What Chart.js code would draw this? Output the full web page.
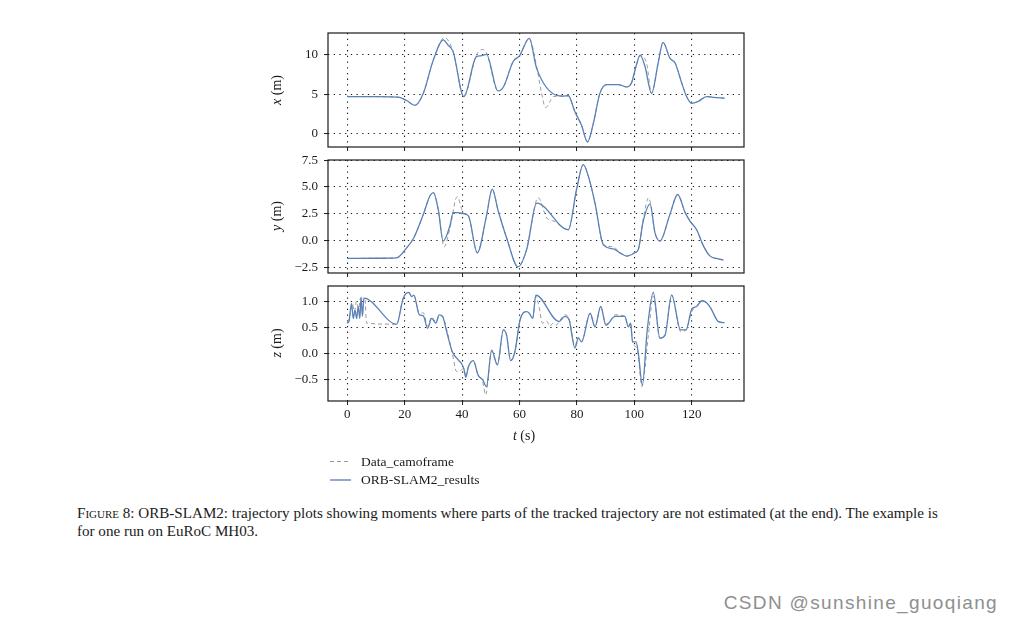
<!DOCTYPE html>
<html>
<head>
<meta charset="utf-8">
<script src="https://cdn.jsdelivr.net/npm/chart.js@4.4.1/dist/chart.umd.min.js"></script>
<style>
  html, body { margin: 0; padding: 0; background: #fff; }
  body { width: 1014px; height: 624px; position: relative; overflow: hidden;
         font-family: 'Liberation Serif', serif; color: #1a1a1a; }
  .panel { position: absolute; left: 262px; }
  .ytitle { position: absolute; font-size: 14px; white-space: nowrap; line-height: 16px;
            transform: translate(-50%, -50%) rotate(-90deg); }
  .ttitle { position: absolute; font-size: 14px; white-space: nowrap; line-height: 16px;
            transform: translate(-50%, -50%); }
  .leg { position: absolute; left: 361px; font-size: 13.5px; line-height: 16px; white-space: nowrap; }
  .sw { position: absolute; left: 330px; width: 21px; }
  .cap { position: absolute; left: 77px; font-size: 15.1px; line-height: 18px; white-space: nowrap; }
  .sc { font-variant: small-caps; }
  .mark { position: absolute; right: 16px; top: 592px; font-family: 'Liberation Sans', sans-serif;
          font-size: 19px; line-height: 22px; letter-spacing: 1.35px; color: #8f8f8f; }
</style>
</head>
<body>
<div class="panel" style="top:25px"><canvas id="chart-x" width="486" height="128"></canvas></div>
<div class="panel" style="top:152px"><canvas id="chart-y" width="486" height="127"></canvas></div>
<div class="panel" style="top:278px"><canvas id="chart-z" width="486" height="149"></canvas></div>

<div class="ytitle" style="left:277px;top:90px"><i>x</i> (m)</div>
<div class="ytitle" style="left:277px;top:216px"><i>y</i> (m)</div>
<div class="ytitle" style="left:277px;top:343px"><i>z</i> (m)</div>
<div class="ttitle" style="left:524px;top:436px"><i>t</i> (s)</div>

<div class="sw" style="top:461px;height:1px;background:repeating-linear-gradient(90deg,#999 0 4px,transparent 4px 7px)"></div>
<div class="leg" style="top:454px">Data_camoframe</div>
<div class="sw" style="top:479px;height:2px;background:#8fa9cf"></div>
<div class="leg" style="top:472px">ORB-SLAM2_results</div>

<div class="cap" style="top:504px"><span class="sc">Figure</span> 8: ORB-SLAM2: trajectory plots showing moments where parts of the tracked trajectory are not estimated (at the end). The example is</div>
<div class="cap" style="top:522px">for one run on EuRoC MH03.</div>

<div class="mark">CSDN @sunshine_guoqiang</div>

<script>
// Time axis (seconds) shared by the three panels
const tTicks = [0, 20, 40, 60, 80, 100, 120];
const xTicks = [0, 5, 10];
const yTicks = [-2.5, 0, 2.5, 5, 7.5];
const zTicks = [-0.5, 0, 0.5, 1];

// [t, value] pairs
const xCamo = [[0,4.69],[10,4.68],[17.8,4.62],[20.7,4.2],[23.6,3.6],[26.5,5.1],[30,9.3],[33.9,12.1],[36.9,10.3],
  [40.6,4.7],[45,9.9],[47,10.6],[48.5,10.2],[52.5,5.4],[54.4,5.9],[57.8,9.1],[60,9.8],[63.4,12.0],[66,8.4],
  [67.5,5.5],[69.1,3.3],[70.5,4.0],[71.8,4.7],[75,4.75],[77,4.8],[79.3,2.8],[81.6,1.1],[83.7,-1.0],[85.7,1.3],
  [88,5.1],[90.4,6.2],[94.4,6.2],[97.3,5.9],[99,6.4],[100.6,8.5],[102,9.8],[104.2,9.0],[106,5.1],[108.4,9.1],
  [110,11.5],[112.4,9.5],[114.2,8.9],[116.5,6.4],[118.2,4.7],[120,3.85],[122.3,4.1],[125.2,4.7],[127.5,4.6],[131.4,4.5]];
const xOrb = [[0,4.69],[10,4.68],[17.8,4.62],[20.7,4.2],[23.6,3.6],[26.5,5.1],[30,9.3],[33.5,11.8],[35,11.2],
  [36.9,10.3],[40.6,4.7],[45,9.7],[46.5,9.8],[48.5,10.0],[52.5,5.4],[54.4,5.9],[57.8,9.1],[60,9.8],[63.4,12.0],
  [66,8.2],[73.3,4.8],[75,4.75],[77,4.8],[79.3,2.8],[81.6,1.1],[83.7,-1.0],[85.7,1.3],[88,5.1],[90.4,6.2],
  [94.4,6.2],[97.3,5.9],[99,6.4],[100.6,8.5],[102,9.9],[103.7,8.5],[106,5.1],[108.4,9.1],[110,11.5],[112.4,9.5],
  [114.2,8.9],[116.5,6.4],[118.2,4.7],[120,3.85],[122.3,4.1],[125.2,4.7],[127.5,4.6],[131.4,4.5]];

const yCamo = [[0,-1.69],[10,-1.67],[17.2,-1.63],[20.7,-0.69],[23.2,0.25],[26.5,2.44],[28.8,4.2],[30,4.5],
  [31.7,2.9],[33.8,-0.6],[35.8,1.2],[38.3,4.1],[40.4,2.6],[42.2,2.3],[45.3,-1.16],[48.5,2.3],[50.5,4.8],[52.6,2.75],
  [55.5,0.25],[59.5,-2.47],[62.5,-0.84],[66.5,4.0],[69.5,2.1],[72,1.8],[77,1.0],[79.9,4.8],[82.2,7.1],[84,6.0],
  [86.3,3.5],[89.2,-0.4],[92.7,-0.6],[95,-1.16],[97.3,-1.47],[100.2,-1.1],[101.4,-0.84],[103.1,2.0],[105,4.0],
  [107.2,0.7],[108.9,-0.06],[112.4,2.44],[115.1,4.3],[117.7,2.6],[119.4,1.8],[121.7,1.0],[124.1,-0.53],
  [126.4,-1.47],[129.3,-1.72],[131,-1.84]];
const yOrb = [[0,-1.69],[10,-1.67],[17.2,-1.63],[20.7,-0.69],[23.2,0.25],[26.5,2.44],[28.8,4.16],[30,4.47],
  [31.7,2.9],[33.4,-0.06],[35.8,1.4],[36.9,2.6],[38.5,2.6],[40.4,2.5],[42.2,2.3],[45.3,-1.16],[48.5,2.3],[50.5,4.8],
  [52.6,2.75],[55.5,0.25],[59.5,-2.47],[62.5,-0.84],[66,3.5],[77,1.0],[79.9,4.8],[82.2,7.1],[84,6.0],[86.3,3.5],
  [89.2,-0.4],[92.7,-0.8],[95,-1.16],[97.3,-1.47],[100.2,-1.16],[101.4,-0.84],[103.1,1.8],[105.5,3.4],[107.2,0.7],
  [108.9,-0.06],[112.4,2.44],[115.1,4.3],[117.7,2.6],[119.4,1.8],[121.7,1.0],[124.1,-0.53],[126.4,-1.47],
  [129.3,-1.72],[131,-1.84]];

const zCamo = [[0,0.58],[1,0.75],[1.8,0.95],[2.5,0.8],[3.2,1.0],[4,0.85],[4.6,1.06],[6.2,1.03],[6.7,0.58],
  [17.2,0.56],[19.5,1.06],[21.5,1.17],[22.4,1.09],[23.2,1.12],[25.1,0.76],[26.5,0.78],[28,0.52],[29.4,0.7],
  [30.9,0.6],[32,0.72],[33.2,0.71],[34.8,0.42],[36.6,0.0],[38.1,-0.35],[39.5,-0.33],[40.6,-0.29],[41.3,-0.46],
  [42.2,-0.26],[43.9,-0.14],[45.6,-0.42],[47.2,-0.55],[48.2,-0.8],[50.3,0.04],[52.3,-0.22],[54.4,0.45],[55.5,0.35],
  [56.9,-0.14],[58.4,0.03],[60.2,0.64],[62.5,0.8],[63.4,0.77],[64.6,0.67],[65.7,1.1],[66.8,0.9],[68,0.58],
  [69.5,0.62],[70.5,0.52],[71.7,0.58],[72.8,0.54],[73.8,0.61],[75.8,0.74],[77.3,0.66],[79.3,0.14],[80.5,0.31],
  [81.6,0.22],[84.6,0.77],[86.3,0.51],[88.3,0.9],[90.1,0.56],[91.5,0.62],[93.3,0.74],[96.7,0.71],[97.9,0.51],
  [98.7,0.58],[99.4,0.2],[100.6,0.12],[101.4,-0.05],[102.6,-0.64],[104.8,0.3],[106.6,1.1],[108.9,0.29],
  [110.7,0.35],[113,1.12],[116.1,0.42],[118,0.45],[120,0.8],[121.7,0.9],[123.5,1.01],[125.2,0.97],[126.6,0.87],
  [129.3,0.61],[131.4,0.59]];
const zOrb = [[0,0.58],[0.6,0.61],[1.5,0.96],[2.1,0.67],[2.7,0.83],[3.3,0.67],[3.8,0.9],[4.4,0.67],[4.8,1.08],
  [5.3,0.71],[5.8,1.06],[17.2,0.56],[19.5,1.06],[21.5,1.17],[22.4,1.09],[23.2,1.12],[25.1,0.74],[26.5,0.72],
  [28,0.48],[29.4,0.67],[30.9,0.58],[32,0.74],[33.2,0.71],[34.8,0.38],[36.6,0.03],[40.6,-0.29],[41.3,-0.46],
  [42.2,-0.26],[43.9,-0.14],[45.6,-0.42],[47.2,-0.51],[48.5,-0.64],[50.3,0.06],[52.3,-0.22],[54.4,0.45],
  [55.5,0.35],[56.9,-0.14],[58.4,0.03],[60.2,0.64],[62.5,0.8],[63.4,0.77],[64.6,0.67],[65.7,1.12],[73.8,0.61],
  [75.8,0.71],[77.3,0.64],[79.3,0.1],[80.5,0.29],[81.6,0.22],[84.6,0.77],[86.3,0.51],[88.3,0.9],[90.1,0.54],
  [93.3,0.71],[96.7,0.71],[97.9,0.51],[98.7,0.58],[99.4,0.22],[100.6,0.22],[101.4,0.0],[102.8,-0.61],[104.5,0.45],
  [106.6,1.17],[108.9,0.29],[110.7,0.35],[113,1.12],[116.1,0.45],[118,0.45],[120,0.85],[121.7,0.9],[123.5,1.01],
  [125.2,0.97],[126.6,0.87],[129.3,0.61],[131.4,0.59]];

const BLUE = '#5a81b7', GREY = '#9a9a9a', INK = '#1a1a1a';
const T_MIN = -6.7, T_MAX = 138.2;

Chart.defaults.font.family = "'Liberation Serif', serif";
Chart.defaults.font.size = 13;
Chart.defaults.color = INK;

const pts = (arr) => arr.map(([t, v]) => ({ x: t, y: v }));
const fmt = (v, d) => v.toFixed(d).replace('-', '\u2212');

// box around each plot area
const frame = {
  id: 'frame',
  afterDraw(chart) {
    const { ctx, chartArea: a } = chart;
    ctx.save();
    ctx.strokeStyle = INK;
    ctx.lineWidth = 1.2;
    ctx.strokeRect(a.left, a.top, a.right - a.left, a.bottom - a.top);
    ctx.restore();
  },
};

const grid = { color: INK, lineWidth: 1.1, tickLength: 4, tickColor: INK, tickWidth: 1 };
const border = { display: false, dash: [1.3, 4.4] };
// keep the plot areas where the panels sit in the figure: no label overhang padding
const noPad = (s) => { s.paddingTop = 0; s.paddingBottom = 0; s.paddingLeft = 0; s.paddingRight = 0; };

function panel(id, camo, orb, yMin, yMax, yTickVals, decimals, showT) {
  new Chart(document.getElementById(id), {
    type: 'line',
    data: {
      datasets: [
        { label: 'Data_camoframe', data: pts(camo), borderColor: GREY, borderDash: [4, 3], borderWidth: 1, order: 1 },
        { label: 'ORB-SLAM2_results', data: pts(orb), borderColor: BLUE, borderWidth: 1.3, order: 0 },
      ],
    },
    options: {
      responsive: false,
      animation: false,
      layout: { autoPadding: false, padding: { top: 8, right: 4, bottom: 2, left: 0 } },
      elements: { point: { radius: 0 }, line: { cubicInterpolationMode: 'monotone' } },
      plugins: { legend: { display: false }, tooltip: { enabled: false } },
      scales: {
        x: {
          type: 'linear', min: T_MIN, max: T_MAX,
          afterBuildTicks: (s) => { s.ticks = tTicks.map((v) => ({ value: v })); },
          afterFit: (s) => { s.height = showT ? 24 : 4; noPad(s); },
          grid, border,
          ticks: { display: showT, padding: 2, maxRotation: 0, autoSkip: false },
        },
        y: {
          type: 'linear', min: yMin, max: yMax,
          afterBuildTicks: (s) => { s.ticks = yTickVals.map((v) => ({ value: v })); },
          afterFit: (s) => { s.width = 66; noPad(s); },
          grid, border,
          ticks: { padding: 6, autoSkip: false, callback: (v) => fmt(v, decimals) },
        },
      },
    },
    plugins: [frame],
  });
}

panel('chart-x', xCamo, xOrb, -1.63, 12.67, xTicks, 0, false);
panel('chart-y', yCamo, yOrb, -3.05, 7.53, yTicks, 1, false);
panel('chart-z', zCamo, zOrb, -0.917, 1.294, zTicks, 1, true);
</script>
</body>
</html>
